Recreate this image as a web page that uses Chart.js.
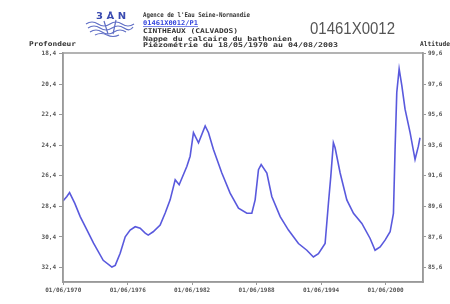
<!DOCTYPE html>
<html>
<head>
<meta charset="utf-8">
<script src="https://cdn.jsdelivr.net/npm/chart.js@4"></script>
<style>
  html, body { margin: 0; padding: 0; background: #fff; }
  #wrap { position: relative; width: 450px; height: 304px; overflow: hidden; }
  #c { position: absolute; left: 0; top: 0; }
  #hdr { position: absolute; left: 0; top: 0; pointer-events: none; }
</style>
</head>
<body>
<div id="wrap">
  <canvas id="c" width="450" height="304"></canvas>
  <svg id="hdr" width="450" height="304" xmlns="http://www.w3.org/2000/svg">
    <!-- logo -->
    <text x="96" y="19" font-family="DejaVu Sans" font-weight="bold" font-size="8" fill="#3a4bb0" textLength="30" lengthAdjust="spacingAndGlyphs">3 Å N</text>
    <g stroke="#4455bb" stroke-width="1.2" fill="none" opacity="0.85">
      <path d="M86 24 Q92 20 98 24 T110 24 T122 24 T134 24"/>
      <path d="M88 28 Q94 24 100 28 T112 28 T124 28 T133 27"/>
      <path d="M90 32 Q96 28 102 32 T114 32 T126 32"/>
      <path d="M95 35 Q101 32 107 35 T119 35"/>
      <path d="M104 21 L108 34 M116 20 L113 34"/>
    </g>
    <g font-family="DejaVu Sans Mono" font-weight="bold" font-size="6.5" fill="#333">
      <text x="143" y="17" textLength="107" lengthAdjust="spacingAndGlyphs">Agence de l'Eau Seine-Normandie</text>
      <text x="143" y="25" textLength="55" lengthAdjust="spacingAndGlyphs" fill="#3344dd" text-decoration="underline">01461X0012/P1</text>
      <text x="143" y="33" textLength="95" lengthAdjust="spacingAndGlyphs">CINTHEAUX (CALVADOS)</text>
      <text x="143" y="41" textLength="149" lengthAdjust="spacingAndGlyphs">Nappe du calcaire du bathonien</text>
      <text x="143" y="47" textLength="195" lengthAdjust="spacingAndGlyphs">Piézométrie du 18/05/1970 au 04/08/2003</text>
      <text x="29" y="46" textLength="47" lengthAdjust="spacingAndGlyphs">Profondeur</text>
      <text x="420" y="46" textLength="30" lengthAdjust="spacingAndGlyphs">Altitude</text>
    </g>
    <text x="310" y="34" font-family="Liberation Sans" font-size="16" fill="#555" textLength="85" lengthAdjust="spacingAndGlyphs">01461X0012</text>
  </svg>
</div>
<script>
// ---- data ----
const years = [
  1970.40, 1970.76, 1971.01, 1971.50, 1972.00, 1972.60, 1973.24, 1974.14, 1974.95, 1975.26,
  1975.72, 1976.19, 1976.65, 1977.12, 1977.58, 1978.05, 1978.33, 1978.79, 1979.44, 1979.91,
  1980.37, 1980.84, 1981.21, 1981.93, 1982.23, 1982.54, 1983.01, 1983.63, 1983.94, 1984.40,
  1985.18, 1985.95, 1986.73, 1987.51, 1987.97, 1988.28, 1988.59, 1988.84, 1989.37, 1989.83,
  1990.61, 1991.38, 1992.31, 1993.09, 1993.70, 1994.17, 1994.79, 1995.10, 1995.32, 1995.56,
  1995.72, 1996.19, 1996.81, 1997.43, 1998.21, 1998.98, 1999.44, 1999.91, 2000.37, 2000.84,
  2001.15, 2001.30, 2001.46, 2001.68, 2001.93, 2002.23, 2002.70, 2003.16, 2003.47, 2003.62
];
const depths = [
  28.05, 27.75, 27.49, 28.20, 29.07, 29.90, 30.81, 31.93, 32.37, 32.26,
  31.47, 30.39, 29.95, 29.73, 29.82, 30.15, 30.28, 30.06, 29.62, 28.83,
  27.97, 26.65, 26.98, 25.77, 25.11, 23.57, 24.23, 23.13, 23.57, 24.67,
  26.21, 27.53, 28.52, 28.85, 28.85, 27.97, 25.99, 25.66, 26.21, 27.75,
  29.07, 29.95, 30.83, 31.27, 31.71, 31.49, 30.83, 28.19, 26.43, 24.23,
  24.56, 26.21, 27.97, 28.85, 29.51, 30.50, 31.27, 31.05, 30.61, 30.06,
  28.85, 24.67, 20.93, 19.39, 20.49, 22.03, 23.57, 25.33, 24.45, 23.90
];
const xTickYears = [1970.42, 1976.42, 1982.42, 1988.42, 1994.42, 2000.42];
const xTickLabels = ["01/06/1970", "01/06/1976", "01/06/1982", "01/06/1988", "01/06/1994", "01/06/2000"];
const depthTicks = [18.4, 20.4, 22.4, 24.4, 26.4, 28.4, 30.4, 32.4];
const altitudeTicks = [99.6, 97.6, 95.6, 93.6, 91.6, 89.6, 87.6, 85.6];
const reference = 118.0; // altitude = reference - depth

const fmt = v => v.toFixed(1).replace('.', ',');
const tickFont = { family: 'DejaVu Sans Mono', size: 6, weight: 'bold' };

const frame = {
  id: 'frame',
  afterDraw(chart) {
    const a = chart.chartArea, ctx = chart.ctx;
    ctx.save();
    ctx.strokeStyle = '#9a9a9a';
    ctx.lineWidth = 1.5;
    ctx.strokeRect(a.left, a.top, a.right - a.left, a.bottom - a.top);
    ctx.restore();
  }
};

new Chart(document.getElementById('c'), {
  type: 'line',
  data: {
    datasets: [{
      data: years.map((y, i) => ({ x: y, y: depths[i] })),
      borderColor: 'rgba(60,60,215,0.85)',
      borderWidth: 1.6,
      pointRadius: 0,
      tension: 0,
      fill: false,
      yAxisID: 'y'
    }]
  },
  options: {
    responsive: false,
    animation: false,
    layout: { padding: { top: 53, left: 0, right: 0, bottom: 0 } },
    plugins: { legend: { display: false }, tooltip: { enabled: false }, title: { display: false } },
    scales: {
      x: {
        type: 'linear',
        min: 1970.40,
        max: 2003.90,
        afterBuildTicks: s => { s.ticks = xTickYears.map(v => ({ value: v })); },
        afterFit: s => { s.height = 22; },
        ticks: {
          autoSkip: false, maxRotation: 0, padding: 2,
          color: '#555', font: tickFont,
          callback: (v, i) => xTickLabels[i]
        },
        grid: { display: true, drawOnChartArea: false, drawTicks: true, tickLength: 3, color: '#999' },
        border: { display: true, color: '#999', width: 1.5 }
      },
      y: {
        position: 'left',
        reverse: true,
        min: 18.35,
        max: 33.35,
        afterBuildTicks: s => { s.ticks = depthTicks.map(v => ({ value: v })); },
        afterFit: s => { s.width = 63; },
        ticks: { autoSkip: false, padding: 3, color: '#555', font: tickFont, callback: v => fmt(v) },
        grid: { display: true, drawOnChartArea: false, drawTicks: true, tickLength: 4, color: '#999' },
        border: { display: true, color: '#999', width: 1.5 }
      },
      y2: {
        position: 'right',
        min: reference - 33.35,
        max: reference - 18.35,
        afterBuildTicks: s => { s.ticks = altitudeTicks.map(v => ({ value: v })); },
        afterFit: s => { s.width = 27; },
        ticks: { autoSkip: false, padding: 2, color: '#555', font: tickFont, callback: v => fmt(v) },
        grid: { display: true, drawOnChartArea: false, drawTicks: true, tickLength: 3, color: '#999' },
        border: { display: true, color: '#999', width: 1.5 }
      }
    }
  },
  plugins: [frame]
});
</script>
</body>
</html>
